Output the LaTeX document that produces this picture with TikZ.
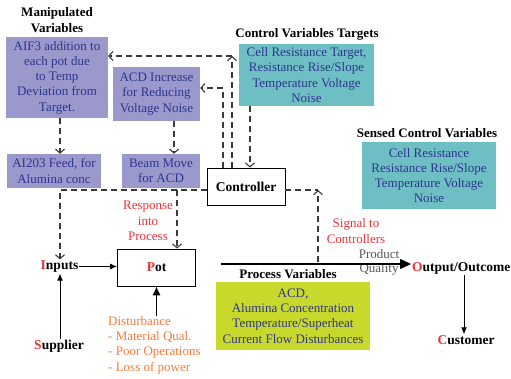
\documentclass[tikz,border=0pt]{standalone}
\usepackage{fontspec}
\setmainfont{Liberation Serif}
\usetikzlibrary{arrows.meta}
\definecolor{purp}{HTML}{9B98CB}
\definecolor{tealbox}{HTML}{6EBFC3}
\definecolor{limebox}{HTML}{C8D92B}
\definecolor{txtblue}{HTML}{2E3690}
\definecolor{redtxt}{HTML}{ED3237}
\definecolor{orangetxt}{HTML}{F47C3C}
\definecolor{dashgray}{HTML}{3A3A3A}
\definecolor{graytxt}{HTML}{555555}
\begin{document}
\begin{tikzpicture}[x=1pt,y=-1pt,
  boxtext/.style={font=\fontsize{13}{15.3}\selectfont, text=txtblue, align=center, inner sep=0pt},
  mvbox/.style={boxtext, fill=purp},
  cvbox/.style={boxtext, fill=tealbox},
  pvbox/.style={boxtext, fill=limebox},
  title/.style={font=\fontsize{13}{15.5}\selectfont\bfseries, align=center, inner sep=0pt},
  framebox/.style={draw=black, line width=0.8pt, fill=white, font=\fontsize{13.5}{14}\selectfont\bfseries, inner sep=0pt, minimum width=78pt, minimum height=37pt},
  label/.style={font=\fontsize{13.5}{15.5}\selectfont\bfseries, inner sep=1pt},
  redlabel/.style={font=\fontsize{13}{15.5}\selectfont, text=redtxt, align=center, inner sep=0pt},
  dashline/.style={draw=dashgray, line width=1.1pt, dash pattern=on 6pt off 4pt},
  dasharrow/.style={dashline, -{Straight Barb[length=4pt,width=9pt,line width=1.1pt]}},
  flowarrow/.style={draw=black, line width=1pt, -{Latex[length=7pt,width=6pt]}},
  bigarrow/.style={draw=black, line width=1.3pt, -{Triangle[length=11pt,width=10pt]}}
]
\useasboundingbox (0,0) rectangle (511,378);

% manipulated variables
\node[title] (mvtitle) at (57,20) {Manipulated\\Variables};
\node[mvbox, minimum width=102pt, minimum height=81pt] (aif) at (57,77.5)
  {AIF3 addition to\\each pot due\\to Temp\\Deviation from\\Target.};
\node[mvbox, minimum width=87pt, minimum height=54pt] (acd) at (156.5,94)
  {ACD Increase\\for Reducing\\Voltage Noise};
\node[mvbox, minimum width=94pt, minimum height=34pt] (feed) at (54,171)
  {AI203 Feed, for\\Alumina conc};
\node[mvbox, minimum width=78pt, minimum height=34pt] (beam) at (161,171)
  {Beam Move\\for ACD};

% control variable targets and sensed variables
\node[title] (cvtitle) at (307,34) {Control Variables Targets};
\node[cvbox, minimum width=135pt, minimum height=62pt] (targets) at (306.5,75)
  {Cell Resistance Target,\\Resistance Rise/Slope\\Temperature Voltage\\Noise};
\node[title] (sctitle) at (427,133) {Sensed Control Variables};
\node[cvbox, minimum width=134pt, minimum height=67pt] (sensed) at (429,175.5)
  {Cell Resistance\\Resistance Rise/Slope\\Temperature Voltage\\Noise};

% controller and pot
\node[framebox] (ctrl) at (246,186.5) {Controller};
\node[framebox] (pot) at (156.5,267.5) {\textcolor{redtxt}{P}ot};

% process variables
\node[title] (pvtitle) at (288,274) {Process Variables};
\node[pvbox, minimum width=154pt, minimum height=68pt] (procvars) at (293,316)
  {ACD,\\Alumina Concentration\\Temperature/Superheat\\Current Flow Disturbances};

% process chain labels
\node[label] (inputs) at (59.5,266.5) {\textcolor{redtxt}{I}nputs};
\node[label] (supplier) at (59,346) {\textcolor{redtxt}{S}upplier};
\node[label, anchor=west] (output) at (411,268) {\textcolor{redtxt}{O}utput/Outcome};
\node[label] (customer) at (466,340) {\textcolor{redtxt}{C}ustomer};
\node[font=\fontsize{13}{15.3}\selectfont, text=orangetxt, align=left, anchor=north west, inner sep=0pt] (dist) at (108,316)
  {Disturbance\\- Material Qual.\\- Poor Operations\\- Loss of power};
\node[redlabel] (response) at (148,221) {Response\\into\\Process};
\node[redlabel] (signal) at (356,231) {Signal to\\Controllers};
\node[font=\fontsize{13}{13.5}\selectfont, text=graytxt, align=center, inner sep=0pt] (quality) at (379,262.5) {Product\\Quality};

% routing points
\coordinate (c1) at (232,56);
\coordinate (c2) at (223,88);
\coordinate (c3) at (250,0);
\coordinate (c4) at (60,190);
\coordinate (c5) at (177,190);
\coordinate (c6) at (318,190);
\coordinate (c7) at (318,262);
\coordinate (p0) at (221,264);
\coordinate (c8) at (464,0);
\coordinate (c9) at (60,0);
\coordinate (c10) at (174,0);

% controller outputs to manipulated variables
\draw[dasharrow] (ctrl.north -| c1) -- (c1);
\draw[dasharrow] (c1) -- (aif.east |- c1);
\draw[dasharrow] (ctrl.north -| c2) -- (c2) -- (acd.east |- c2);
\draw[dasharrow] (targets.south -| c3) -- (ctrl.north -| c3);
\draw[dasharrow] (aif.south -| c9) -- (feed.north -| c9);
\draw[dasharrow] (acd.south -| c10) -- (beam.north -| c10);

% controller to the process
\draw[dasharrow] (ctrl.west |- c4) -- (c4) -- (inputs.north -| c4);
\draw[dasharrow] (c5) -- (pot.north -| c5);

% feedback from the process
\draw[dashline] (ctrl.east |- c6) -- (c6);
\draw[dasharrow] (c7) -- (c6);

% main process flow
\draw[flowarrow] (inputs.east) -- (pot.west |- inputs.east);
\draw[flowarrow] (supplier.north -| c9) -- (inputs.south -| c9);
\draw[flowarrow, -{Latex[length=9pt,width=8pt]}] (pot.south |- dist.north) -- (pot.south);
\draw[bigarrow] (p0) -- (output.west |- p0);
\draw[flowarrow] (output.south -| c8) -- (customer.north -| c8);
\end{tikzpicture}
\end{document}
